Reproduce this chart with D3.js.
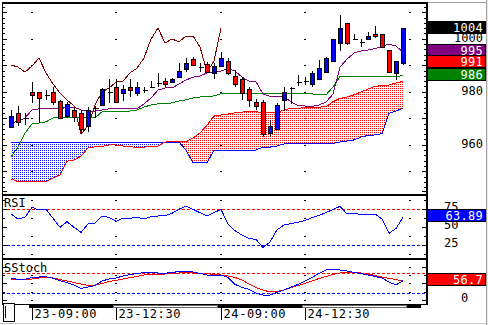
<!DOCTYPE html>
<html><head><meta charset="utf-8">
<script src="https://cdn.jsdelivr.net/npm/d3@7"></script>
<style>
html,body{margin:0;padding:0;background:#fff;overflow:hidden;}
svg{display:block;}
text{font-family:"DejaVu Sans Mono",monospace;font-size:12px;}
</style></head><body>
<script>
// 10-minute bars, index 0..56
const opens  = [966.7,972.0,970.1,979.9,979.9,978.8,979.9,976.5,970.8,973.1,972.0,967.1,973.8,975.0,979.9,981.8,979.5,981.8,979.5,980.6,981.8,983.3,984.0,983.7,985.5,988.6,992.3,989.3,990.5,987.1,989.7,991.6,985.9,984.8,981.0,976.1,976.1,964.4,965.9,976.9,981.4,983.6,984.0,982.9,984.8,987.4,991.6,998.4,1005.9,999.9,998.8,999.9,1001.8,1001.8,995.7,987.1,990.8];
const highs  = [973.1,974.6,972.0,983.7,979.9,980.6,981.8,976.9,976.1,973.8,973.1,974.2,974.6,981.4,984.8,984.8,982.5,984.8,983.7,981.8,984.0,987.1,985.2,985.2,990.8,992.7,993.1,990.8,991.2,990.8,995.0,992.7,988.2,985.5,981.8,977.2,976.9,969.3,975.7,981.8,981.8,986.3,985.5,987.8,992.0,993.1,999.9,1008.9,1005.9,1001.8,999.9,1002.5,1004.8,1001.8,995.7,991.6,1004.0];
const lows   = [966.5,967.0,967.4,975.7,968.2,976.9,975.0,970.1,970.1,968.6,964.0,964.8,970.1,974.6,975.7,975.7,976.5,978.0,978.4,979.5,981.4,981.8,981.8,983.7,985.2,987.4,990.1,987.4,987.1,984.8,989.3,986.3,981.8,976.9,974.2,973.1,962.9,962.9,965.5,972.7,975.4,982.3,982.5,981.8,984.4,987.4,991.6,995.4,997.6,999.5,996.9,999.9,1000.3,996.5,987.1,984.4,990.1];
const closes = [970.8,968.6,970.1,978.8,977.6,978.8,976.1,970.1,975.4,970.5,965.9,973.1,973.8,981.0,979.9,976.1,981.0,980.6,981.8,980.6,981.8,983.3,982.9,984.8,987.8,990.8,990.1,989.3,987.4,989.7,992.7,987.1,982.9,979.5,976.9,974.6,964.0,967.1,975.0,979.9,981.4,983.6,984.0,987.1,988.9,992.7,999.9,1004.0,998.4,999.9,998.8,1001.0,1001.0,996.9,987.4,991.6,1004.0];

// Ichimoku lines
const tenkan = [968.2,968.9,970.1,973.1,973.5,973.5,973.5,973.5,974.2,974.2,973.1,972.7,972.7,973.1,973.5,973.5,973.5,973.5,973.5,975.4,977.6,980.6,981.4,981.4,982.9,984.4,985.5,985.9,987.1,987.4,987.8,988.6,987.8,985.5,984.0,983.8,979.1,978.2,978.2,978.2,976.1,974.8,974.6,974.4,975.0,976.1,979.1,989.3,992.3,994.6,995.4,995.7,996.3,997.1,998.0,997.2,995.0];
const kijun  = [955.4,959.1,964.4,967.8,968.2,968.6,970.1,970.1,970.1,970.1,970.1,970.1,970.1,972.4,972.7,972.7,972.7,972.7,973.1,974.2,975.0,975.4,975.4,975.8,976.5,976.9,977.6,978.0,978.2,978.4,979.3,979.2,979.2,979.2,979.2,979.2,979.2,979.2,979.2,979.2,979.2,979.2,979.2,979.2,978.8,978.8,981.8,985.7,985.8,985.8,985.8,985.8,985.8,985.8,985.8,985.8,986.0];
const spanA  = [947.1,946.1,946.1,946.1,946.1,946.1,947.4,948.6,953.8,954.2,955.7,958.8,959.2,959.3,959.9,959.9,959.5,959.3,958.9,959.1,959.3,959.5,961.0,961.1,961.1,961.1,962.5,964.4,967.4,970.8,971.2,971.6,972.0,972.3,972.5,972.5,972.0,972.0,972.3,973.1,973.7,973.7,974.0,974.2,974.2,974.3,976.2,977.5,978.0,978.8,979.9,981.0,982.0,982.3,982.5,983.3,984.0];
const spanB  = [961.0,961.0,961.0,961.0,961.0,961.0,961.0,961.0,961.0,961.0,961.0,961.0,961.0,961.0,961.0,961.0,961.0,961.0,961.0,961.0,961.0,961.0,961.0,961.0,961.0,958.0,953.1,953.1,953.1,958.0,958.0,958.0,958.0,958.0,958.0,958.0,959.1,959.1,959.5,960.3,960.3,960.5,960.5,960.5,960.5,960.5,960.5,961.0,961.4,961.8,962.9,963.5,963.7,964.2,971.8,972.7,973.8];
const laggingShift = 26;   // lagging span = close plotted 26 bars back
const leadingSpanNext = 991;

// oscillators
const rsi    = [68.5,61.5,63.9,77.8,74.0,75.0,62.5,50.0,57.8,50.0,43.0,54.6,55.6,65.7,63.9,58.3,62.5,62.5,63.9,61.5,64.7,65.7,66.1,69.4,75.0,79.6,75.0,70.3,65.7,70.3,75.0,54.6,45.3,39.3,34.7,33.0,22.0,29.6,46.3,53.2,55.3,56.9,59.4,63.3,66.4,70.6,74.7,79.2,68.5,69.2,67.8,67.1,68.5,61.5,41.7,48.3,63.89];
const stochK = [64.8,61.8,61.8,67.2,68.7,69.6,64.8,57.6,52.2,44.8,34.9,38.8,43.3,56.7,62.7,65.7,71.6,76.1,79.1,81.5,81.5,80.6,79.7,82.1,85.0,86.6,83.6,79.7,74.6,74.6,74.6,67.2,46.9,37.3,31.9,20.9,14.9,14.9,22.4,29.9,38.8,46.3,56.7,67.2,79.1,89.6,89.6,89.6,86.6,82.1,79.1,74.6,70.1,65.7,53.7,44.8,57.6];
const stochD = [61.8,60.9,59.7,62.7,65.7,67.8,65.7,61.2,56.7,52.2,47.8,43.3,44.8,49.3,55.2,58.8,62.7,66.6,70.1,74.6,77.6,77.6,77.6,79.1,80.6,81.5,80.6,79.7,79.1,76.1,74.6,71.6,67.2,59.7,47.8,37.3,29.9,23.9,25.4,29.9,37.3,43.3,49.3,56.7,64.2,70.1,76.1,80.6,81.5,81.5,80.6,77.6,73.1,68.7,64.2,61.2,56.7];

// session starts (bar index) and their labels
const sessionStart  = [3, 15, 30, 42, 57];
const sessionLabels = ["23-09:00", "23-12:30", "24-09:00", "24-12:30"];

const priceLabels = [1000, 980, 960];
const rsiLabels   = [75, 50, 25];
const rsiLevels   = [75, 25];
const stochLevels = [80, 20];

const n = closes.length;
const W = 488, H = 325;
const plotL = 2, plotR = 427;
const mainP  = {top: 3,   bottom: 194};
const rsiP   = {top: 196, bottom: 258};
const stochP = {top: 260, bottom: 304};

const svg = d3.select("body").append("svg").attr("width", W).attr("height", H);
const defs = svg.append("defs");

const x  = d3.scaleLinear().domain([0, 56]).range([11, 403]);
const y  = d3.scaleLinear().domain([950, 1010]).range([171.2, 12.2]);
const yR = d3.scaleLinear().domain([0, 100]).range([263.3, 191.3]);
const yS = d3.scaleLinear().domain([0, 100]).range([300, 266.5]);

// background and window edges
svg.append("rect").attr("width", W).attr("height", H).attr("fill", "#fff");
svg.append("rect").attr("x", 486).attr("y", 0).attr("width", 2).attr("height", H).attr("fill", "#ece9e4");
svg.append("line").attr("x1", 486.5).attr("x2", 486.5).attr("y1", 0).attr("y2", H).attr("stroke", "#a0a0a0");
svg.append("line").attr("x1", plotR).attr("x2", 486).attr("y1", 2.5).attr("y2", 2.5).attr("stroke", "#a0a0a0");
svg.append("line").attr("x1", 0).attr("x2", 486).attr("y1", 323.5).attr("y2", 323.5).attr("stroke", "#c8c8c8");

// clip paths per panel
function clip(id, p) {
  defs.append("clipPath").attr("id", id).append("rect")
    .attr("x", plotL).attr("y", p.top).attr("width", plotR - plotL).attr("height", p.bottom - p.top);
}
clip("cMain", mainP); clip("cRsi", rsiP); clip("cSt", stochP);

// stipple patterns for the cloud
function dots(id, color) {
  const p = defs.append("pattern").attr("id", id).attr("width", 2).attr("height", 2)
    .attr("patternUnits", "userSpaceOnUse");
  p.append("rect").attr("width", 1).attr("height", 1).attr("fill", color);
}
dots("dotBlue", "#0000ff"); dots("dotRed", "#ff0000");

const crisp = "crispEdges";
const main = svg.append("g").attr("clip-path", "url(#cMain)");

// grid marks at session starts
function gridMarks(g, ys) {
  sessionStart.forEach(s => ys.forEach(v => {
    g.append("line").attr("x1", Math.round(x(s)) - 1).attr("x2", Math.round(x(s)) + 1)
      .attr("y1", Math.round(v) + 0.5).attr("y2", Math.round(v) + 0.5)
      .attr("stroke", "#000").attr("shape-rendering", crisp);
  }));
}
gridMarks(main, d3.range(950, 1011, 10).map(y));

// cloud: fill between the two spans, colour by which is on top
const idx = d3.range(n);
const between = d3.area().x(i => x(i)).y0(i => y(spanA[i])).y1(i => y(spanB[i]));
defs.append("clipPath").attr("id", "aboveA").append("path")
  .attr("d", d3.area().x(i => x(i)).y0(i => y(spanA[i])).y1(0)(idx));
defs.append("clipPath").attr("id", "belowA").append("path")
  .attr("d", d3.area().x(i => x(i)).y0(i => y(spanA[i])).y1(H)(idx));
main.append("g").attr("clip-path", "url(#aboveA)").append("path")
  .attr("d", between(idx)).attr("fill", "url(#dotBlue)");
main.append("g").attr("clip-path", "url(#belowA)").append("path")
  .attr("d", between(idx)).attr("fill", "url(#dotRed)");

function drawLine(g, data, xs, ys, color) {
  g.append("path").datum(data)
    .attr("d", d3.line().x(xs).y(ys))
    .attr("fill", "none").attr("stroke", color).attr("stroke-width", 1)
    .attr("shape-rendering", crisp);
}
drawLine(main, idx, i => x(i), i => y(spanB[i]), "#0000ff");
drawLine(main, idx, i => x(i), i => y(spanA[i]), "#ff0000");
drawLine(main, idx, i => x(i), i => y(kijun[i]), "#008000");
drawLine(main, idx, i => x(i), i => y(tenkan[i]), "#800080");
const lagIdx = d3.range(n - laggingShift);
drawLine(main, lagIdx, i => x(i), i => y(closes[i + laggingShift]), "#800000");

// candles
const cg = main.append("g");
idx.forEach(i => {
  const cx = Math.round(x(i)) + 0.5;
  cg.append("line").attr("x1", cx).attr("x2", cx)
    .attr("y1", y(highs[i])).attr("y2", y(lows[i]))
    .attr("stroke", "#000").attr("shape-rendering", crisp);
  if (opens[i] === closes[i]) {
    cg.append("line").attr("x1", cx - 2).attr("x2", cx + 3)
      .attr("y1", Math.round(y(opens[i])) + 0.5).attr("y2", Math.round(y(opens[i])) + 0.5)
      .attr("stroke", "#000").attr("shape-rendering", crisp);
  } else {
    const up = closes[i] > opens[i];
    const top = Math.round(y(Math.max(opens[i], closes[i])));
    const bot = Math.round(y(Math.min(opens[i], closes[i])));
    cg.append("rect").attr("x", cx - 2).attr("y", top + 0.5)
      .attr("width", 4).attr("height", Math.max(1, bot - top))
      .attr("fill", up ? "#0000ff" : "#ff0000").attr("stroke", "#000")
      .attr("shape-rendering", crisp);
  }
});

// RSI panel
const rg = svg.append("g").attr("clip-path", "url(#cRsi)");
gridMarks(rg, [87.5, 62.5, 37.5, 12.5].map(yR));
rsiLevels.forEach((lv, k) => {
  rg.append("line").attr("x1", plotL).attr("x2", plotR)
    .attr("y1", Math.round(yR(lv)) + 0.5).attr("y2", Math.round(yR(lv)) + 0.5)
    .attr("stroke", k === 0 ? "#ff0000" : "#0000ff").attr("stroke-dasharray", "3,2")
    .attr("shape-rendering", crisp);
});
drawLine(rg, idx, i => x(i), i => yR(rsi[i]), "#0000ff");

// Slow stochastic panel
const sg = svg.append("g").attr("clip-path", "url(#cSt)");
gridMarks(sg, [100, 75, 50, 25, 0].map(yS));
stochLevels.forEach((lv, k) => {
  sg.append("line").attr("x1", plotL).attr("x2", plotR)
    .attr("y1", Math.round(yS(lv)) + 0.5).attr("y2", Math.round(yS(lv)) + 0.5)
    .attr("stroke", k === 0 ? "#ff0000" : "#0000ff").attr("stroke-dasharray", "3,2")
    .attr("shape-rendering", crisp);
});
drawLine(sg, idx, i => x(i), i => yS(stochD[i]), "#ff0000");
drawLine(sg, idx, i => x(i), i => yS(stochK[i]), "#0000ff");

// axis ticks on both edges of each panel
function edgeTicks(scale, values, size) {
  [[plotL + 1, d3.axisRight], [plotR - 1, d3.axisLeft]].forEach(([px, ax]) => {
    const g = svg.append("g").attr("transform", `translate(${px},0)`)
      .call(ax(scale).tickValues(values).tickSize(size).tickFormat(""));
    g.select(".domain").remove();
    g.selectAll("line").attr("stroke", "#000").attr("shape-rendering", crisp);
  });
}
edgeTicks(y, d3.range(950, 1011, 10), 4);
edgeTicks(y, d3.range(944, 1013, 2).filter(v => v % 10 !== 0), 2);
edgeTicks(yR, [100, 75, 50, 25], 4);
edgeTicks(yR, [87.5, 62.5, 37.5, 12.5], 2);
edgeTicks(yS, [100, 50, 0], 4);
edgeTicks(yS, [75, 25], 2);

// panel frames
const blk = (x0, y0, w, h) => svg.append("rect").attr("x", x0).attr("y", y0)
  .attr("width", w).attr("height", h).attr("fill", "#000").attr("shape-rendering", crisp);
blk(plotL, 2, plotR - plotL + 1, 2);
blk(plotL, 194, plotR - plotL + 1, 2);
blk(plotL, 258, plotR - plotL + 1, 2);
blk(plotL, 304, plotR - plotL + 1, 1);
blk(plotL, 2, 1, 303);
blk(plotR - 1, 2, 2, 303);

// session strip: morning sessions solid, afternoon sessions outlined
sessionStart.forEach((s, k) => {
  const x0 = Math.round(x(s - 0.5));
  const x1 = k + 1 < sessionStart.length ? Math.round(x(sessionStart[k + 1] - 0.5)) : plotR - 6;
  if (k % 2 === 0) blk(x0, 305, x1 - x0, 3);
  else svg.append("rect").attr("x", x0 + 0.5).attr("y", 305.5).attr("width", x1 - x0 - 1).attr("height", 2)
    .attr("fill", "#fff").attr("stroke", "#000").attr("stroke-width", 0.6).attr("shape-rendering", crisp);
});

// time labels
sessionLabels.forEach((t, k) => {
  const px = Math.round(x(sessionStart[k])) + 0.5;
  svg.append("line").attr("x1", px).attr("x2", px).attr("y1", 308).attr("y2", 320)
    .attr("stroke", "#000").attr("shape-rendering", crisp);
  svg.append("text").attr("x", px + 2).attr("y", 318).attr("letter-spacing", 0.6).text(t);
});

// scroll box at the lower left
svg.append("rect").attr("x", 3.5).attr("y", 303.5).attr("width", 11).attr("height", 18)
  .attr("fill", "#fff").attr("stroke", "#000").attr("shape-rendering", crisp);
svg.append("line").attr("x1", 5.5).attr("x2", 5.5).attr("y1", 306).attr("y2", 318)
  .attr("stroke", "#000").attr("shape-rendering", crisp);

// panel titles
svg.append("text").attr("x", 4).attr("y", 207).text("RSI");
svg.append("text").attr("x", 4).attr("y", 272).text("SStoch");

// right-hand scale labels (value tags are drawn over them)
priceLabels.forEach(v => {
  svg.append("text").attr("x", 483).attr("y", y(v) + 3.3).attr("text-anchor", "end").text(v);
});
rsiLabels.forEach(v => {
  svg.append("text").attr("x", 444).attr("y", yR(v) + 1.5).text(v);
});
svg.append("text").attr("x", 461).attr("y", yS(0) + 1.5).text("0");

function tag(yc, label, bg, fg) {
  svg.append("rect").attr("x", 427.5).attr("y", Math.round(yc - 6) + 0.5).attr("width", 58).attr("height", 12)
    .attr("fill", bg).attr("stroke", "#000").attr("shape-rendering", crisp);
  svg.append("text").attr("x", 483).attr("y", Math.round(yc - 6) + 10.5).attr("text-anchor", "end")
    .attr("letter-spacing", 0.3).attr("fill", fg).text(label);
}
tag(y(closes[n - 1]) - 1.5, d3.format("d")(closes[n - 1]), "#000", "#fff");
tag(y(tenkan[n - 1]) - 1.5, d3.format("d")(tenkan[n - 1]), "#800080", "#fff");
tag(y(leadingSpanNext) - 1.5, d3.format("d")(leadingSpanNext), "#ff0000", "#fff");
tag(y(kijun[n - 1]) - 1.5, d3.format("d")(kijun[n - 1]), "#008000", "#fff");
tag(yR(rsi[n - 1]) - 2, d3.format(".2f")(rsi[n - 1]), "#0000ff", "#fff");
tag(yS(stochD[n - 1]) - 2, d3.format(".1f")(stochD[n - 1]), "#ff0000", "#fff");
</script>
</body></html>
